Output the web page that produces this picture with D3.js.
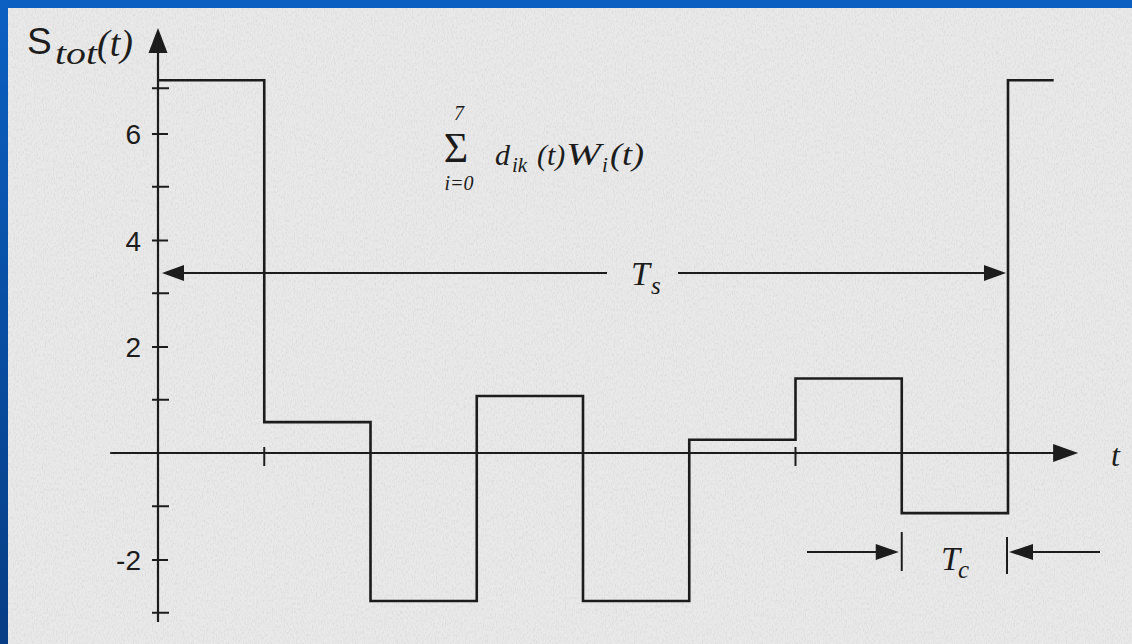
<!DOCTYPE html>
<html>
<head>
<meta charset="utf-8">
<script src="https://cdn.jsdelivr.net/npm/d3@7"></script>
<style>
  html, body { margin: 0; padding: 0; background: #e9e9e9; }
  svg { display: block; }
</style>
</head>
<body>
<svg id="chart" width="1132" height="644"></svg>
<script>
// Composite CDMA signal: sum of 8 weighted Walsh chips over one symbol period Ts
const chipIndex = [0, 1, 2, 3, 4, 5, 6, 7];
const chipValues = [7.0, 0.58, -2.78, 1.07, -2.78, 0.25, 1.40, -1.13];
const nextSymbolValue = 7.0;
const nextSymbolEnd = 8.43;
const yTickLabels = [6, 4, 2, -2];
const yMinorTicks = [6.85, 5, 3, 1, -1, -3];
const xTicks = [1, 6];
const symbolSpan = [0, 8];
const chipSpan = [7, 8];

const svg = d3.select("#chart");
const W = 1132, H = 644;
const ink = "#1c1c1c";

// paper background with a faint grain
const defs = svg.append("defs");
const grain = defs.append("filter").attr("id", "grain").attr("x", 0).attr("y", 0).attr("width", "100%").attr("height", "100%");
grain.append("feTurbulence").attr("type", "fractalNoise").attr("baseFrequency", "0.9 0.35").attr("numOctaves", 2).attr("seed", 7);
grain.append("feColorMatrix").attr("type", "matrix")
  .attr("values", "0 0 0 0 0.3  0 0 0 0 0.3  0 0 0 0 0.3  0 0 0 -1.1 0.62");
const edge = defs.append("linearGradient").attr("id", "edge").attr("x1", 0).attr("y1", 0).attr("x2", 0).attr("y2", 1);
edge.append("stop").attr("offset", "0%").attr("stop-color", "#0b60c2");
edge.append("stop").attr("offset", "100%").attr("stop-color", "#073d84");

svg.append("rect").attr("width", W).attr("height", H).attr("fill", "#e9e9e9");
svg.append("rect").attr("width", W).attr("height", H).attr("filter", "url(#grain)").attr("opacity", 0.35);
svg.append("rect").attr("x", 0).attr("y", 0).attr("width", W).attr("height", 8).attr("fill", "#0b5fc1");
svg.append("rect").attr("x", 0).attr("y", 0).attr("width", 8).attr("height", H).attr("fill", "url(#edge)");

// scales: time in chip units, amplitude in signal units
const x = d3.scaleLinear().domain([0, 8]).range([158, 1008]);
const y = d3.scaleLinear().domain([0, 6]).range([453, 133.5]);

const g = svg.append("g");

// arrowhead helper (filled triangle)
function arrowHead(tipX, tipY, dir, len, half) {
  let pts;
  if (dir === "right") pts = [[tipX, tipY], [tipX - len, tipY - half], [tipX - len, tipY + half]];
  if (dir === "left") pts = [[tipX, tipY], [tipX + len, tipY - half], [tipX + len, tipY + half]];
  if (dir === "up") pts = [[tipX, tipY], [tipX - half, tipY + len], [tipX + half, tipY + len]];
  g.append("path").attr("d", "M" + pts.map(p => p.join(",")).join("L") + "Z").attr("fill", ink);
}

// time axis
const xAxisY = y(0);
g.append("line").attr("x1", x(-0.45)).attr("x2", x(8.62)).attr("y1", xAxisY).attr("y2", xAxisY)
  .attr("stroke", ink).attr("stroke-width", 2.2);
arrowHead(x(8.66), xAxisY, "right", 25, 9);
g.selectAll(".xtick").data(xTicks).join("line").attr("class", "xtick")
  .attr("x1", d => x(d)).attr("x2", d => x(d)).attr("y1", xAxisY - 6).attr("y2", xAxisY + 13)
  .attr("stroke", ink).attr("stroke-width", 2);

// amplitude axis
const yAxis = d3.axisLeft(y).tickValues(yTickLabels).tickFormat(d => String(d)).tickSize(6).tickPadding(11);
const yg = g.append("g").attr("transform", `translate(${x(0)},0)`).call(yAxis);
yg.select(".domain").remove();
yg.selectAll(".tick line").attr("x1", -6).attr("x2", 10).attr("stroke", ink).attr("stroke-width", 2);
yg.selectAll(".tick text").attr("font-family", "Liberation Sans, Arial, sans-serif").attr("font-size", 28)
  .attr("fill", ink).attr("dy", "0.36em");
g.selectAll(".yminor").data(yMinorTicks).join("line").attr("class", "yminor")
  .attr("x1", x(0) - 6).attr("x2", x(0) + 11).attr("y1", d => y(d)).attr("y2", d => y(d))
  .attr("stroke", ink).attr("stroke-width", 2);
g.append("line").attr("x1", x(0)).attr("x2", x(0)).attr("y1", 45).attr("y2", 622)
  .attr("stroke", ink).attr("stroke-width", 2.2);
arrowHead(x(0), 28, "up", 25, 9.5);

// the composite step signal
const pts = chipIndex.map(i => ({ t: i, v: chipValues[i] }));
pts.push({ t: 8, v: nextSymbolValue });
pts.push({ t: nextSymbolEnd, v: nextSymbolValue });
const step = d3.line().x(d => x(d.t)).y(d => y(d.v)).curve(d3.curveStepAfter);
g.append("path").datum(pts).attr("d", step).attr("fill", "none")
  .attr("stroke", ink).attr("stroke-width", 2.6).attr("stroke-linejoin", "miter");

// Ts dimension arrow
const tsY = 273;
g.append("line").attr("x1", x(symbolSpan[0]) + 20).attr("x2", 607).attr("y1", tsY).attr("y2", tsY)
  .attr("stroke", ink).attr("stroke-width", 2.2);
g.append("line").attr("x1", 678).attr("x2", x(symbolSpan[1]) - 22).attr("y1", tsY).attr("y2", tsY)
  .attr("stroke", ink).attr("stroke-width", 2.2);
arrowHead(x(symbolSpan[0]) + 4, tsY, "left", 22, 8);
arrowHead(x(symbolSpan[1]) - 2, tsY, "right", 22, 8);

// Tc dimension arrows
const tcY = 552;
g.append("line").attr("x1", x(chipSpan[0])).attr("x2", x(chipSpan[0])).attr("y1", 532).attr("y2", 571)
  .attr("stroke", ink).attr("stroke-width", 2);
g.append("line").attr("x1", x(chipSpan[1]) - 1).attr("x2", x(chipSpan[1]) - 1).attr("y1", 537).attr("y2", 574)
  .attr("stroke", ink).attr("stroke-width", 2);
g.append("line").attr("x1", 807).attr("x2", x(chipSpan[0]) - 22).attr("y1", tcY).attr("y2", tcY)
  .attr("stroke", ink).attr("stroke-width", 2);
arrowHead(x(chipSpan[0]) - 3, tcY, "right", 23, 8);
g.append("line").attr("x1", x(chipSpan[1]) + 22).attr("x2", 1100).attr("y1", tcY).attr("y2", tcY)
  .attr("stroke", ink).attr("stroke-width", 2);
arrowHead(x(chipSpan[1]) + 1, tcY, "left", 24, 8);

// text labels
const serif = "'Liberation Serif', 'Times New Roman', serif";
const sans = "'Liberation Sans', Arial, sans-serif";
function txt(s, px, py, size, family, italic, anchor, len) {
  const t = g.append("text").attr("x", px).attr("y", py).attr("font-size", size).attr("font-family", family)
    .attr("font-style", italic ? "italic" : "normal").attr("fill", ink)
    .attr("text-anchor", anchor || "start").text(s);
  if (len) t.attr("textLength", len).attr("lengthAdjust", "spacingAndGlyphs");
  return t;
}
// S_tot(t)
txt("S", 27, 54, 37, sans, false);
txt("tot", 55, 64, 31, serif, true, "start", 42);
txt("(t)", 97, 56, 38, serif, true);

// summation formula
txt("Σ", 456, 162, 42, serif, false, "middle");
txt("7", 459, 120, 20, serif, true, "middle");
txt("i=0", 459, 190, 20, serif, true, "middle");
txt("d", 495, 165, 30, serif, true);
txt("ik", 512, 172, 21, serif, true);
txt("(t)", 537, 165, 30, serif, true);
txt("W", 566, 165, 32, serif, true, "start", 35);
txt("i", 602, 172, 21, serif, true);
txt("(t)", 610, 165, 31, serif, true, "start", 34);

// Ts, Tc and t
txt("T", 631, 285, 34, serif, true);
txt("s", 651, 294, 25, serif, true);
txt("T", 941, 570, 34, serif, true);
txt("c", 958, 578, 25, serif, true);
txt("t", 1111, 466, 32, serif, true);
</script>
</body>
</html>
